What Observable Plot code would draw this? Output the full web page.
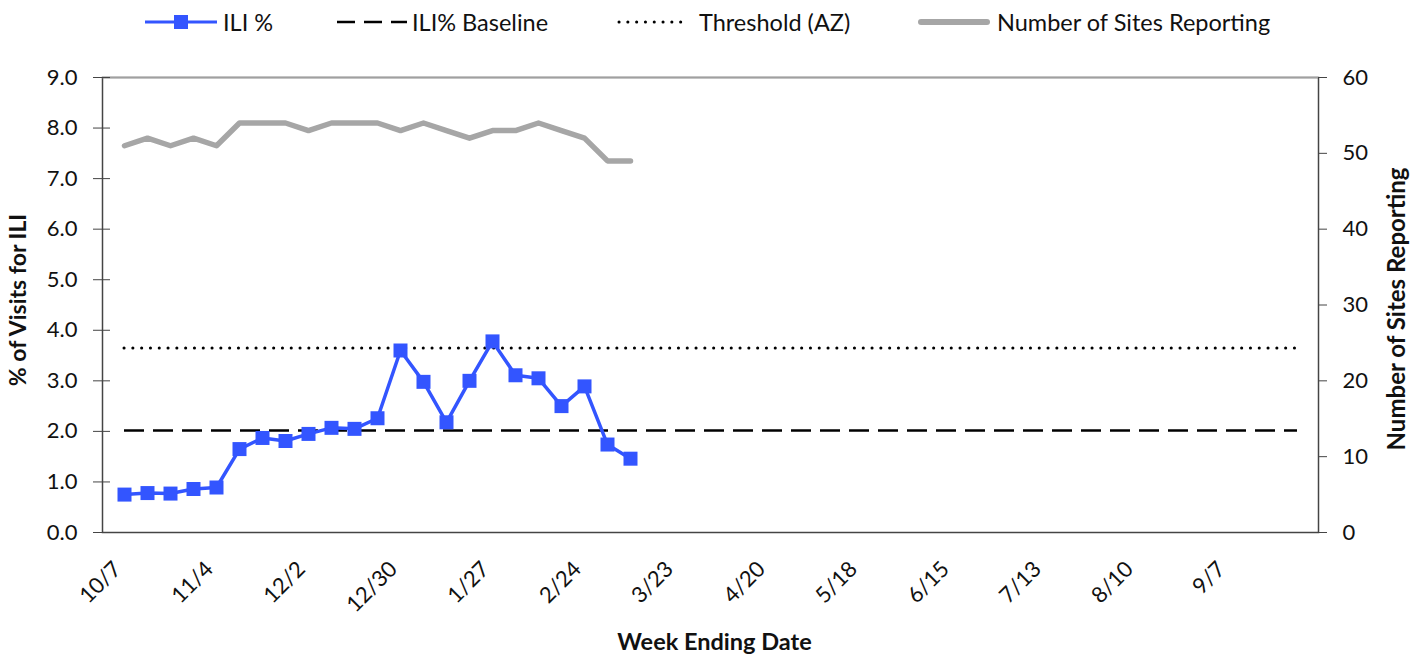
<!DOCTYPE html>
<html>
<head>
<meta charset="utf-8">
<script src="https://cdn.jsdelivr.net/npm/d3@7"></script>
<script src="https://cdn.jsdelivr.net/npm/@observablehq/plot@0.6"></script>
<style>
  body { margin: 0; background: #fff; font-family: Lato, "Open Sans", sans-serif; }
  #legend { position: relative; width: 1422px; height: 44px; font-size: 23.5px; color: #111; }
  .item { position: absolute; top: 7px; height: 30px; display: flex; align-items: center; }
  .item span { white-space: nowrap; }
</style>
</head>
<body>
<div id="legend"></div>
<div id="chart"></div>
<script>
const weeks = ["10/7","10/14","10/21","10/28","11/4","11/11","11/18","11/25",
  "12/2","12/9","12/16","12/23","12/30","1/6","1/13","1/20","1/27","2/3","2/10","2/17","2/24",
  "3/2","3/9","3/16","3/23","3/30","4/6","4/13","4/20","4/27","5/4","5/11","5/18","5/25",
  "6/1","6/8","6/15","6/22","6/29","7/6","7/13","7/20","7/27","8/3","8/10","8/17","8/24","8/31",
  "9/7","9/14","9/21","9/28"];
const iliPct = [0.75,0.78,0.77,0.86,0.89,1.65,1.87,1.81,1.95,2.07,2.05,2.26,3.60,2.98,2.18,3.00,3.78,3.11,3.05,2.50,2.89,1.74,1.46];
const sitesReporting = [51,52,51,52,51,54,54,54,53,54,54,54,53,54,53,52,53,53,54,53,52,49,49];
const iliBaseline = 2.02;
const thresholdAZ = 3.65;
const leftTicks = [0,1,2,3,4,5,6,7,8,9];
const rightTicks = [0,10,20,30,40,50,60];
const xTickLabels = weeks.filter((d, i) => i % 4 === 0);
const seriesNames = ["ILI %", "ILI% Baseline", "Threshold (AZ)", "Number of Sites Reporting"];

const BLUE = "#3355ff", GRAY = "#a6a6a6";
const ratio = 9 / 60;

const iliData = iliPct.map((v, i) => ({week: weeks[i], v}));
const siteData = sitesReporting.map((v, i) => ({week: weeks[i], v}));

// Legend
const legendPos = [145, 335, 617, 918];
const legendGap = [6, 5, 12, 7];
const legendSwatch = [
  `<svg width="72" height="20"><line x1="0" y1="10" x2="72" y2="10" stroke="${BLUE}" stroke-width="3"/><rect x="29" y="3" width="14" height="14" fill="${BLUE}"/></svg>`,
  `<svg width="72" height="20"><line x1="2" y1="10" x2="72" y2="10" stroke="#000" stroke-width="2.5" stroke-dasharray="18,9"/></svg>`,
  `<svg width="70" height="20"><line x1="2" y1="10" x2="68" y2="10" stroke="#000" stroke-width="3" stroke-linecap="round" stroke-dasharray="0.1,8.7"/></svg>`,
  `<svg width="72" height="20"><line x1="3" y1="10" x2="69" y2="10" stroke="${GRAY}" stroke-width="6" stroke-linecap="round"/></svg>`
];
const legend = document.getElementById("legend");
seriesNames.forEach((name, i) => {
  const d = document.createElement("div");
  d.className = "item";
  d.style.left = legendPos[i] + "px";
  d.innerHTML = legendSwatch[i] + `<span style="margin-left:${legendGap[i]}px">${name}</span>`;
  legend.appendChild(d);
});

const chart = Plot.plot({
  width: 1422,
  height: 612,
  marginTop: 33,
  marginBottom: 124,
  marginLeft: 102,
  marginRight: 104,
  style: {fontFamily: "Lato, 'Open Sans', sans-serif", fontSize: "22px", color: "#111", background: "#fff"},
  x: {type: "point", domain: weeks, padding: 0.5, axis: null},
  y: {domain: [0, 9], axis: null},
  marks: [
    Plot.frame({stroke: "#444", strokeWidth: 1.5}),
    Plot.ruleY([9], {stroke: "#a0a0a0", strokeWidth: 1.5}),
    Plot.axisY(leftTicks, {anchor: "left", tickSize: 9, tickPadding: 16, tickFormat: d => d.toFixed(1), label: null, stroke: "#444", fontSize: 22}),
    Plot.axisY(leftTicks, {anchor: "left", tickSize: -8, text: null, label: null, stroke: "#444"}),
    Plot.axisY(rightTicks.map(v => v * ratio), {anchor: "right", tickSize: 8, tickPadding: 16, tickFormat: d => String(Math.round(d / ratio)), label: null, stroke: "#444", fontSize: 22}),
    Plot.text(xTickLabels, {x: d => d, frameAnchor: "bottom", rotate: -45, textAnchor: "end", dy: 38, dx: -2, fontSize: 22}),
    Plot.text(["% of Visits for ILI"], {frameAnchor: "left", textAnchor: "middle", rotate: -90, dx: -84, dy: -5, fontWeight: "bold", fontSize: 23}),
    Plot.text(["Number of Sites Reporting"], {frameAnchor: "right", textAnchor: "middle", rotate: -90, dx: 79, dy: 4, fontWeight: "bold", fontSize: 24}),
    Plot.text(["Week Ending Date"], {frameAnchor: "bottom", textAnchor: "middle", dy: 117, dx: 4, fontWeight: "bold", fontSize: 23.5}),
    Plot.ruleY([iliBaseline], {x1: () => weeks[0], x2: () => weeks[weeks.length - 1], stroke: "#000", strokeWidth: 2.5, strokeDasharray: "20,9"}),
    Plot.ruleY([thresholdAZ], {x1: () => weeks[0], x2: () => weeks[weeks.length - 1], stroke: "#000", strokeWidth: 3, strokeLinecap: "round", strokeDasharray: "0.1,8.7"}),
    Plot.line(siteData, {x: "week", y: d => d.v * ratio, stroke: GRAY, strokeWidth: 5.5, strokeLinecap: "round", strokeLinejoin: "round"}),
    Plot.line(iliData, {x: "week", y: "v", stroke: BLUE, strokeWidth: 3.5}),
    Plot.dot(iliData, {x: "week", y: "v", symbol: "square", fill: BLUE, stroke: "none", r: 7.9})
  ]
});
document.getElementById("chart").appendChild(chart);
</script>
</body>
</html>
